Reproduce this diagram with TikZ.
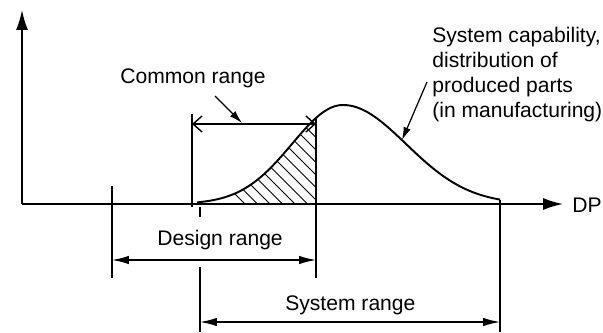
\documentclass[tikz,border=0pt]{standalone}
\usepackage{fontspec}
\setmainfont{Liberation Sans}
\usetikzlibrary{arrows.meta}

\begin{document}
\begin{tikzpicture}[x=0.02cm,y=-0.02cm,
	declare function={
		bellL(\t)=204-99*exp(-0.5*((\t-343)/51)*((\t-343)/51));
		bellR(\t)=204-99*exp(-0.5*((\t-343)/63)*((\t-343)/63));
	}]
	
	\tikzset{
		axisline/.style={
			line width=0.9pt,
			-{Latex[length=4mm,width=2.4mm]}
		},
		extline/.style={
			line width=0.8pt
		},
		dimension/.style={
			line width=0.8pt,
			{Latex[length=3.4mm,width=1.7mm]}-{Latex[length=3.4mm,width=1.7mm]}
		},
		common/.style={
			line width=0.8pt,
			{Straight Barb[length=1.8mm,width=3.2mm]}-{Straight Barb[length=1.8mm,width=3.2mm]}
		},
		leader/.style={
			line width=0.7pt,
			-{Latex[length=2.6mm,width=1.5mm]}
		},
		bell/.style={
			line width=1.1pt
		},
		hatch/.style={
			line width=0.6pt
		},
		rangelabel/.style={
			font=\fontsize{12}{14.2}\selectfont,
			inner sep=0pt,
			anchor=base west
		}
	}
	
	\useasboundingbox (0,0) rectangle (603,332);
	
	% AXES
	\coordinate (origin) at (22,204);
	\coordinate (ytip) at (22,10);
	\coordinate (xtip) at (563,204);
	\draw[axisline] (origin) -- (ytip);
	\draw[axisline] (origin) -- (xtip);
	\node[rangelabel] (dp) at (572,212) {DP};
	
	% DISTRIBUTION
	\coordinate (start) at (197,{bellL(197)});
	\coordinate (cut) at (316,{bellL(316)});
	\coordinate (stop) at (500,{bellR(500)});
	\coordinate (hit) at (402,{bellR(402)});
	
	% HATCHED OVERLAP
	\begin{scope}
		\clip plot[domain=197:316,samples=40] (\x,{bellL(\x)}) -- (316,204) -- (197,204) -- cycle;
		\foreach \c in {245,257.5,...,395}
			\draw[hatch] (\c,204) -- (\c-140,64);
	\end{scope}
	
	\draw[bell] plot[domain=197:343,samples=60] (\x,{bellL(\x)})
		-- plot[domain=343:500,samples=60] (\x,{bellR(\x)});
	
	% EXTENSION LINES
	\coordinate (dl top) at (112,186);
	\coordinate (dl bot) at (112,278);
	\coordinate (cl top) at (192,114);
	\coordinate (cl bot) at (192,207);
	\coordinate (tick top) at (200,207);
	\coordinate (tick bot) at (200,217);
	\coordinate (sl top) at (200,267);
	\coordinate (sl bot) at (200,332);
	\coordinate (dr bot) at (316,278);
	\coordinate (sr bot) at (500,332);
	
	\draw[extline] (dl top) -- (dl bot);
	\draw[extline] (cl top) -- (cl bot);
	\draw[extline] (tick top) -- (tick bot);
	\draw[extline] (sl top) -- (sl bot);
	\draw[extline] (cut) -- (dr bot);
	\draw[extline] (stop) -- (sr bot);
	
	% RANGES
	\draw[common] (192,124) -- (316,124);
	\draw[dimension] (112,260) -- (316,260);
	\draw[dimension] (200,322) -- (500,322);
	
	% LABELS
	\node[rangelabel] (common label) at (120,83) {Common range};
	\node[rangelabel] (design label) at (157,245) {Design range};
	\node[rangelabel] (system label) at (285,310) {System range};
	\node[rangelabel,anchor=north west,align=left] (capability) at (432,27) {
		System capability,\\
		distribution of\\
		produced parts\\
		(in manufacturing)
	};
	
	% LEADERS
	\coordinate (common tail) at (215,96);
	\coordinate (common head) at (242,123);
	\coordinate (capability tail) at (427,82);
	\draw[leader] (common tail) -- (common head);
	\draw[leader] (capability tail) -- (hit);
	
\end{tikzpicture}
\end{document}
